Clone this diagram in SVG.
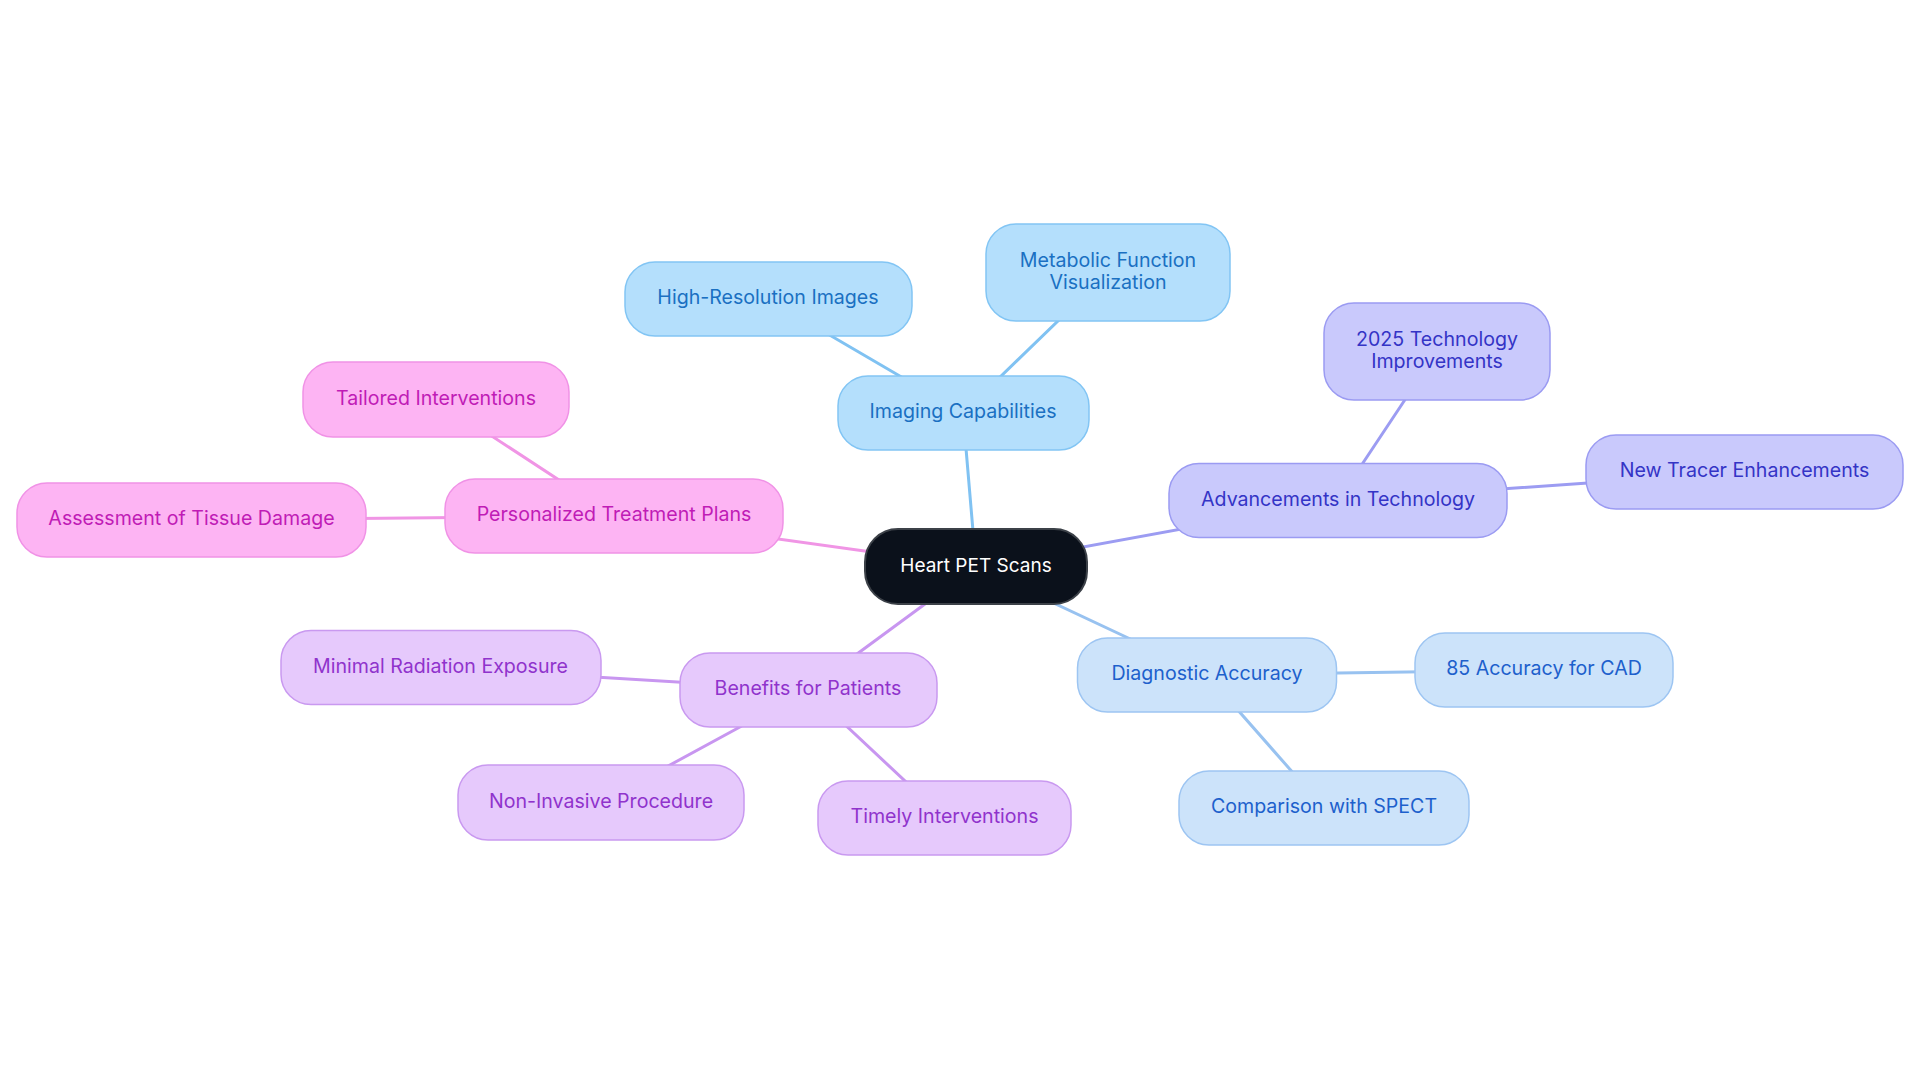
<svg xmlns="http://www.w3.org/2000/svg" width="1920" height="1083" viewBox="0 0 1920 1083">
<style>
  text { font-family: Inter, "Noto Sans", "Liberation Sans", sans-serif; font-size: 19.6px; text-anchor: middle; dominant-baseline: central; }
  #root text { font-size: 19px; }
  .e { fill: none; stroke-width: 3; stroke-linecap: round; }
  .n { stroke-width: 1.5; }
  .blue rect { fill: #b4dffc; stroke: #82c5f4; }
  .blue text { fill: #1a70c2; }
  .lblue rect { fill: #cce3fa; stroke: #9dc5f2; }
  .lblue text { fill: #1d60cc; }
  .lav rect { fill: #c9c9fc; stroke: #9b9bf2; }
  .lav text { fill: #3434c6; }
  .pur rect { fill: #e6c9fc; stroke: #c999f0; }
  .pur text { fill: #9033cc; }
  .pink rect { fill: #fdb4f3; stroke: #f092e6; }
  .pink text { fill: #c01cb6; }
</style>
<rect width="1920" height="1083" fill="#ffffff"/>
<g id="connectors">
  <line class="e" stroke="#80c2f2" x1="976" y1="566.5" x2="963" y2="413"/>
  <line class="e" stroke="#80c2f2" x1="963" y1="413" x2="768" y2="299"/>
  <line class="e" stroke="#80c2f2" x1="963" y1="413" x2="1108" y2="272.5"/>
  <line class="e" stroke="#f095e5" x1="976" y1="566.5" x2="614" y2="516"/>
  <line class="e" stroke="#f095e5" x1="614" y1="516" x2="436" y2="399.5"/>
  <line class="e" stroke="#f095e5" x1="614" y1="516" x2="191.5" y2="520"/>
  <line class="e" stroke="#9c9cf2" x1="976" y1="566.5" x2="1338" y2="500.5"/>
  <line class="e" stroke="#9c9cf2" x1="1338" y1="500.5" x2="1437" y2="351.5"/>
  <line class="e" stroke="#9c9cf2" x1="1338" y1="500.5" x2="1744" y2="472"/>
  <line class="e" stroke="#c896f0" x1="976" y1="566.5" x2="808" y2="690"/>
  <line class="e" stroke="#c896f0" x1="808" y1="690" x2="440.5" y2="667.5"/>
  <line class="e" stroke="#c896f0" x1="808" y1="690" x2="601" y2="802.5"/>
  <line class="e" stroke="#c896f0" x1="808" y1="690" x2="944.5" y2="818"/>
  <line class="e" stroke="#98c2f0" x1="976" y1="566.5" x2="1207" y2="675"/>
  <line class="e" stroke="#98c2f0" x1="1207" y1="675" x2="1544" y2="670"/>
  <line class="e" stroke="#98c2f0" x1="1207" y1="675" x2="1324" y2="808"/>
</g>
<g id="root">
  <rect x="865" y="529" width="222" height="75" rx="33" fill="#0b111b" stroke="#3c4148" stroke-width="2"/>
  <text x="976" y="565.5" fill="#ffffff">Heart PET Scans</text>
</g>
<g id="imaging" class="blue">
  <rect class="n" x="838" y="376" width="251" height="74" rx="30"/>
  <text x="963" y="411">Imaging Capabilities</text>
</g>
<g id="highres" class="blue">
  <rect class="n" x="625" y="262" width="287" height="74" rx="30"/>
  <text x="768" y="297">High-Resolution Images</text>
</g>
<g id="metabolic" class="blue">
  <rect class="n" x="986" y="224" width="244" height="97" rx="30"/>
  <text x="1108" y="260">Metabolic Function</text>
  <text x="1108" y="282">Visualization</text>
</g>
<g id="personalized" class="pink">
  <rect class="n" x="445" y="479" width="338" height="74" rx="30"/>
  <text x="614" y="514">Personalized Treatment Plans</text>
</g>
<g id="tailored" class="pink">
  <rect class="n" x="303" y="362" width="266" height="75" rx="30"/>
  <text x="436" y="397.5">Tailored Interventions</text>
</g>
<g id="assessment" class="pink">
  <rect class="n" x="17" y="483" width="349" height="74" rx="30"/>
  <text x="191.5" y="518">Assessment of Tissue Damage</text>
</g>
<g id="advancements" class="lav">
  <rect class="n" x="1169" y="463.5" width="338" height="74" rx="30"/>
  <text x="1338" y="498.5">Advancements in Technology</text>
</g>
<g id="tech2025" class="lav">
  <rect class="n" x="1324" y="303" width="226" height="97" rx="30"/>
  <text x="1437" y="339">2025 Technology</text>
  <text x="1437" y="361">Improvements</text>
</g>
<g id="tracer" class="lav">
  <rect class="n" x="1586" y="435" width="317" height="74" rx="30"/>
  <text x="1744.5" y="470">New Tracer Enhancements</text>
</g>
<g id="benefits" class="pur">
  <rect class="n" x="680" y="653" width="257" height="74" rx="30"/>
  <text x="808" y="688">Benefits for Patients</text>
</g>
<g id="minimal" class="pur">
  <rect class="n" x="281" y="630.5" width="320" height="74" rx="30"/>
  <text x="440.5" y="665.5">Minimal Radiation Exposure</text>
</g>
<g id="noninvasive" class="pur">
  <rect class="n" x="458" y="765" width="286" height="75" rx="30"/>
  <text x="601" y="800.5">Non-Invasive Procedure</text>
</g>
<g id="timely" class="pur">
  <rect class="n" x="818" y="781" width="253" height="74" rx="30"/>
  <text x="944.5" y="816">Timely Interventions</text>
</g>
<g id="diagnostic" class="lblue">
  <rect class="n" x="1077.5" y="638" width="259" height="74" rx="30"/>
  <text x="1207" y="673">Diagnostic Accuracy</text>
</g>
<g id="accuracy85" class="lblue">
  <rect class="n" x="1415" y="633" width="258" height="74" rx="30"/>
  <text x="1544" y="668">85 Accuracy for CAD</text>
</g>
<g id="spect" class="lblue">
  <rect class="n" x="1179" y="771" width="290" height="74" rx="30"/>
  <text x="1324" y="806">Comparison with SPECT</text>
</g>
</svg>
